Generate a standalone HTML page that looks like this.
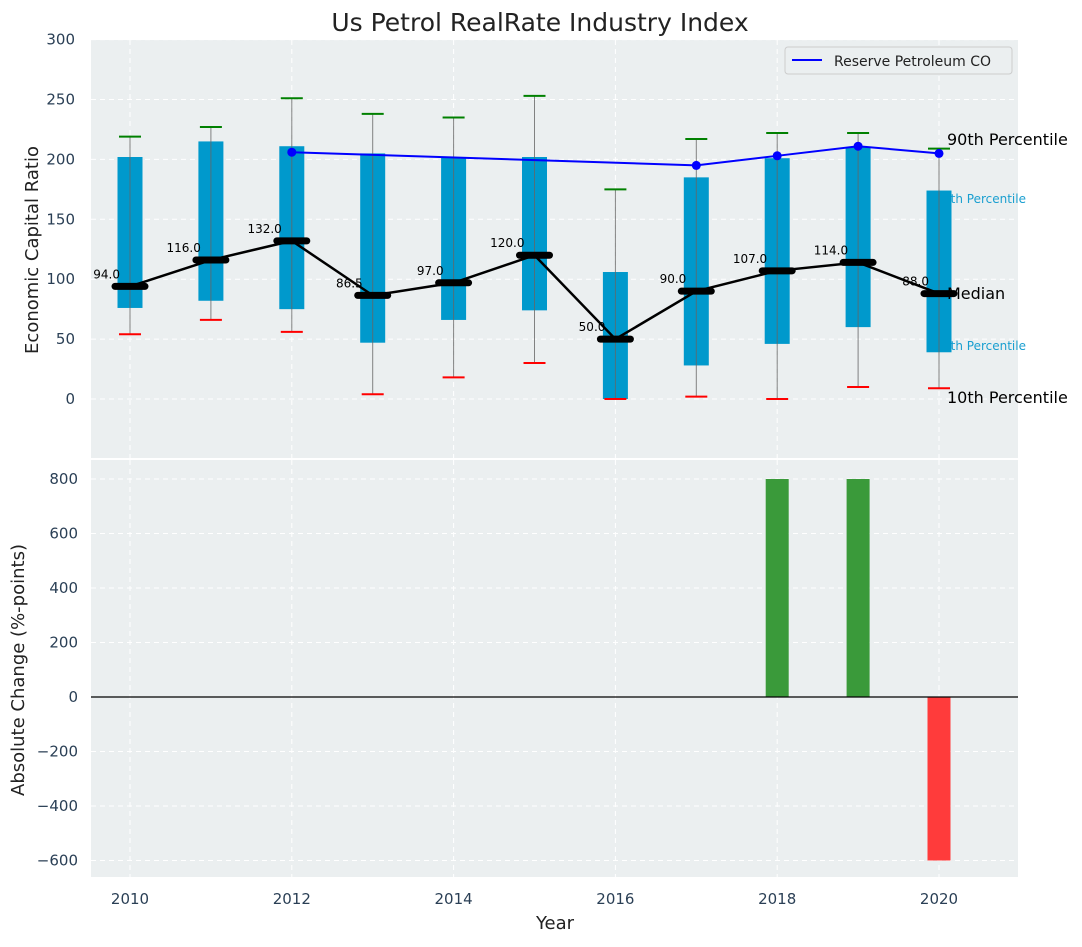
<!DOCTYPE html>
<html><head><meta charset="utf-8"><style>
body{margin:0;background:#fff;}
svg text{font-family:"DejaVu Sans","Liberation Sans",sans-serif;}
</style></head><body>
<svg id="chart" width="1082" height="942" xmlns="http://www.w3.org/2000/svg">
<rect x="91" y="40" width="927" height="418" fill="#ebeff0"/>
<rect x="91" y="460" width="927" height="417" fill="#ebeff0"/>
<g id="grid"></g>
<g id="under"></g>
<g id="top"></g>
<g id="bot"></g>
<text x="540" y="31" text-anchor="middle" font-size="25" fill="#222">Us Petrol RealRate Industry Index</text>
<text x="38" y="250" text-anchor="middle" font-size="18" fill="#222" transform="rotate(-90 38 250)">Economic Capital Ratio</text>
<text x="24" y="670" text-anchor="middle" font-size="18" fill="#222" transform="rotate(-90 24 670)">Absolute Change (%-points)</text>
<text x="555" y="929" text-anchor="middle" font-size="18" fill="#222">Year</text>
<g>
<rect x="785" y="47" width="227" height="27" rx="3" fill="#ebeff0" stroke="#ccc"/>
<line x1="792" y1="60" x2="822" y2="60" stroke="#0000ff" stroke-width="2"/>
<text x="834" y="66" font-size="14" fill="#222">Reserve Petroleum CO</text>
</g>
</svg>
<script>
const years=[2010,2011,2012,2013,2014,2015,2016,2017,2018,2019,2020];
const p10=[54,66,56,4,18,30,0,2,0,10,9];
const q1=[76,82,75,47,66,74,0,28,46,60,39];
const q3=[202,215,211,205,202,202,106,185,201,210,174];
const p90=[219,227,251,238,235,253,175,217,222,222,209];
const medians=[94,116,132,86.5,97,120,50,90,107,114,88];
const medianLabels=["94.0","116.0","132.0","86.5","97.0","120.0","50.0","90.0","107.0","114.0","88.0"];
const peerYears=[2012,2017,2018,2019,2020];
const peerValues=[206,195,203,211,205];
const changeYears=[2018,2019,2020];
const changeValues=[800,800,-600];
const topTicks=[0,50,100,150,200,250,300];
const botTicks=[-600,-400,-200,0,200,400,600,800];
const xTicks=[2010,2012,2014,2016,2018,2020];

const NS="http://www.w3.org/2000/svg";
const X=v=>130+(v-2010)*80.9;
const YT=v=>399-1.198*v;
const YB=v=>697-0.2725*v;
function mk(parent,tag,attrs,text){const e=document.createElementNS(NS,tag);for(const k in attrs)e.setAttribute(k,attrs[k]);if(text!==undefined)e.textContent=text;document.getElementById(parent).appendChild(e);return e;}

topTicks.forEach(t=>{
 const l=mk('grid','line',{x1:91,x2:1018,y1:YT(t),y2:YT(t),stroke:'#fff','stroke-dasharray':'5,4','stroke-width':1});
 
 const tx=mk('grid','text',{x:75,y:YT(t)+5,'text-anchor':'end','font-size':15,fill:'#2a3f55'},String(t));
 
});
botTicks.forEach(t=>{
 const l=mk('grid','line',{x1:91,x2:1018,y1:YB(t),y2:YB(t),stroke:'#fff','stroke-dasharray':'5,4','stroke-width':1});
 
 const tx=mk('grid','text',{x:78,y:YB(t)+5,'text-anchor':'end','font-size':15,fill:'#2a3f55'},String(t).replace('-','\u2212'));
 
});
xTicks.forEach(t=>{
 [[40,458],[460,877]].forEach(r=>{
  const l=mk('grid','line',{x1:X(t),x2:X(t),y1:r[0],y2:r[1],stroke:'#fff','stroke-dasharray':'5,4'});
  
 });
 const tx=mk('grid','text',{x:X(t),y:904,'text-anchor':'middle','font-size':15,fill:'#2a3f55'},String(t));
 
});

const lx=X(2020)+8;
[["5th Percentile",203],["5th Percentile",350]].forEach(a=>{
 const t=mk('under','text',{x:lx-4,y:a[1],'font-size':12,fill:'#1a9fd0'},a[0]);
 
});

years.forEach((y,i)=>{
 const cx=X(y);
 const b=mk('top','rect',{x:cx-12.5,y:YT(q3[i]),width:25,height:YT(q1[i])-YT(q3[i]),fill:'#0099cc'});
 
 const w=mk('top','line',{x1:cx,x2:cx,y1:YT(p90[i]),y2:YT(p10[i]),stroke:'#666','stroke-width':1,opacity:0.8});
 
 const c1=mk('top','line',{x1:cx-11,x2:cx+11,y1:YT(p90[i]),y2:YT(p90[i]),stroke:'#008000','stroke-width':2});
 
 const c2=mk('top','line',{x1:cx-11,x2:cx+11,y1:YT(p10[i]),y2:YT(p10[i]),stroke:'#ff0000','stroke-width':2});
 
});
const ml=mk('top','polyline',{points:years.map((y,i)=>X(y)+','+YT(medians[i])).join(' '),fill:'none',stroke:'#000','stroke-width':2.5});

years.forEach((y,i)=>{
 const m=mk('top','line',{x1:X(y)-15,x2:X(y)+15,y1:YT(medians[i]),y2:YT(medians[i]),stroke:'#000','stroke-width':7,'stroke-linecap':'round'});
 
 const t=mk('top','text',{x:X(y)-10,y:YT(medians[i])-8,'text-anchor':'end','font-size':12,fill:'#000'},medianLabels[i]);
 
});
const pl=mk('top','polyline',{points:peerYears.map((y,i)=>X(y)+','+YT(peerValues[i])).join(' '),fill:'none',stroke:'#0000ff','stroke-width':2});

peerYears.forEach((y,i)=>{
 const c=mk('top','circle',{cx:X(y),cy:YT(peerValues[i]),r:4.5,fill:'#0000ff'});
 
});
[["90th Percentile",145],["Median",299],["10th Percentile",403]].forEach(a=>{
 const t=mk('top','text',{x:lx,y:a[1],'font-size':16,fill:'#000'},a[0]);
 
});
changeYears.forEach((y,i)=>{
 const v=changeValues[i];
 const r=mk('bot','rect',{x:X(y)-11.5,y:Math.min(YB(v),YB(0)),width:23,height:Math.abs(YB(v)-YB(0)),fill:v>=0?'#3a9a3a':'#ff3b3b'});
 
});
const z=mk('bot','line',{x1:91,x2:1018,y1:YB(0),y2:YB(0),stroke:'#000','stroke-width':1.2});

</script>
</body></html>
